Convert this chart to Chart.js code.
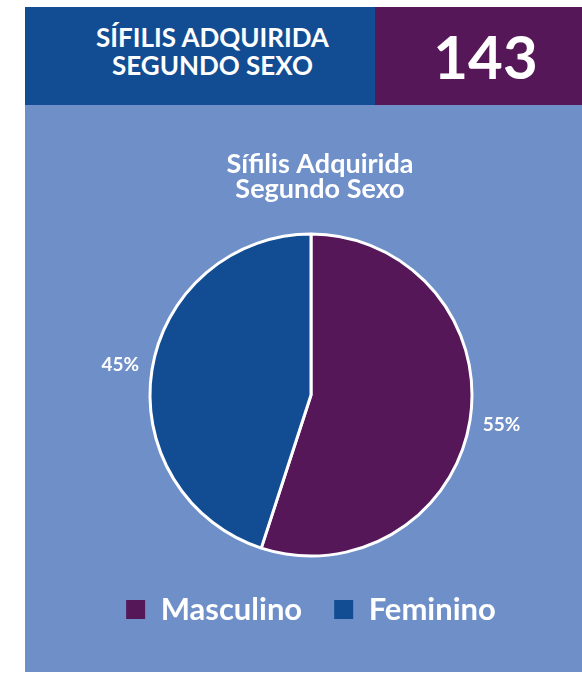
<!DOCTYPE html>
<html>
<head>
<meta charset="utf-8">
<script src="https://cdn.jsdelivr.net/npm/chart.js@4"></script>
<style>
  body { margin: 0; background: #ffffff; width: 582px; height: 676px; position: relative; overflow: hidden; font-family: Lato, "Open Sans", sans-serif; }
  .head { position: absolute; top: 7px; height: 98px; color: #ffffff; font-weight: bold; display: flex; align-items: center; justify-content: center; text-align: center; box-sizing: border-box; }
  #headTitle { left: 25px; width: 350px; background: #124d94; font-size: 26px; line-height: 28px; padding-left: 25px; padding-bottom: 10px; }
  #headTotal { left: 375px; width: 207px; background: #561758; font-size: 60px; padding-left: 14px; }
  #panel { position: absolute; left: 25px; top: 105px; width: 557px; height: 567px; background: #6f8fc9; }
  #wrap { position: absolute; left: 40px; top: 105px; width: 542px; height: 567px; }
</style>
</head>
<body>
<div class="head" id="headTitle">SÍFILIS ADQUIRIDA<br>SEGUNDO SEXO</div>
<div class="head" id="headTotal">143</div>
<div id="panel"></div>
<div id="wrap"><canvas id="chart"></canvas></div>
<script>
// Chart data
const categories = ['Masculino', 'Feminino'];
const percentages = [55, 45];
const sliceColors = ['#561758', '#124d94'];
const chartTitle = ['Sífilis Adquirida', 'Segundo Sexo'];

// Title sits a bit right of the pie centre in the original, so draw it here
const titlePlugin = {
    id: 'titlePlugin',
    afterDraw(chart) {
        const ctx = chart.ctx;
        const cx = (chart.chartArea.left + chart.chartArea.right) / 2 + 9;
        ctx.save();
        ctx.font = 'bold 27px Lato';
        ctx.fillStyle = '#ffffff';
        ctx.textAlign = 'center';
        ctx.textBaseline = 'alphabetic';
        chartTitle.forEach((line, i) => {
            ctx.fillText(line, cx, 68 + i * 25);
        });
        ctx.restore();
    }
};

// Percentage labels just outside each slice
const outsideLabels = {
    id: 'outsideLabels',
    afterDatasetsDraw(chart) {
        const ctx = chart.ctx;
        const values = chart.data.datasets[0].data;
        ctx.save();
        ctx.font = 'bold 19px Lato';
        ctx.fillStyle = '#ffffff';
        ctx.textAlign = 'center';
        ctx.textBaseline = 'middle';
        chart.getDatasetMeta(0).data.forEach((arc, i) => {
            const p = arc.getProps(['x', 'y', 'startAngle', 'endAngle', 'outerRadius'], true);
            const mid = (p.startAngle + p.endAngle) / 2;
            const r = p.outerRadius + 32;
            ctx.fillText(values[i] + '%', p.x + Math.cos(mid) * r, p.y + Math.sin(mid) * r);
        });
        ctx.restore();
    }
};

const ctx = document.getElementById('chart').getContext('2d');
new Chart(ctx, {
    type: 'pie',
    data: {
        labels: categories,
        datasets: [{
            data: percentages,
            backgroundColor: sliceColors,
            borderColor: '#ffffff',
            borderWidth: 3,
            radius: 161
        }]
    },
    options: {
        responsive: true,
        maintainAspectRatio: false,
        animation: false,
        layout: { padding: { top: 123, bottom: 37 } },
        plugins: {
            title: { display: false },
            legend: {
                position: 'bottom',
                labels: {
                    color: '#ffffff',
                    font: { family: 'Lato', size: 31, weight: 'bold' },
                    boxWidth: 19,
                    boxHeight: 19,
                    padding: 32,
                    generateLabels(chart) {
                        return chart.data.labels.map((label, i) => ({
                            text: label,
                            fillStyle: sliceColors[i],
                            strokeStyle: sliceColors[i],
                            lineWidth: 0,
                            fontColor: '#ffffff',
                            index: i
                        }));
                    }
                }
            },
            tooltip: { enabled: false }
        }
    },
    plugins: [outsideLabels, titlePlugin]
});
</script>
</body>
</html>
